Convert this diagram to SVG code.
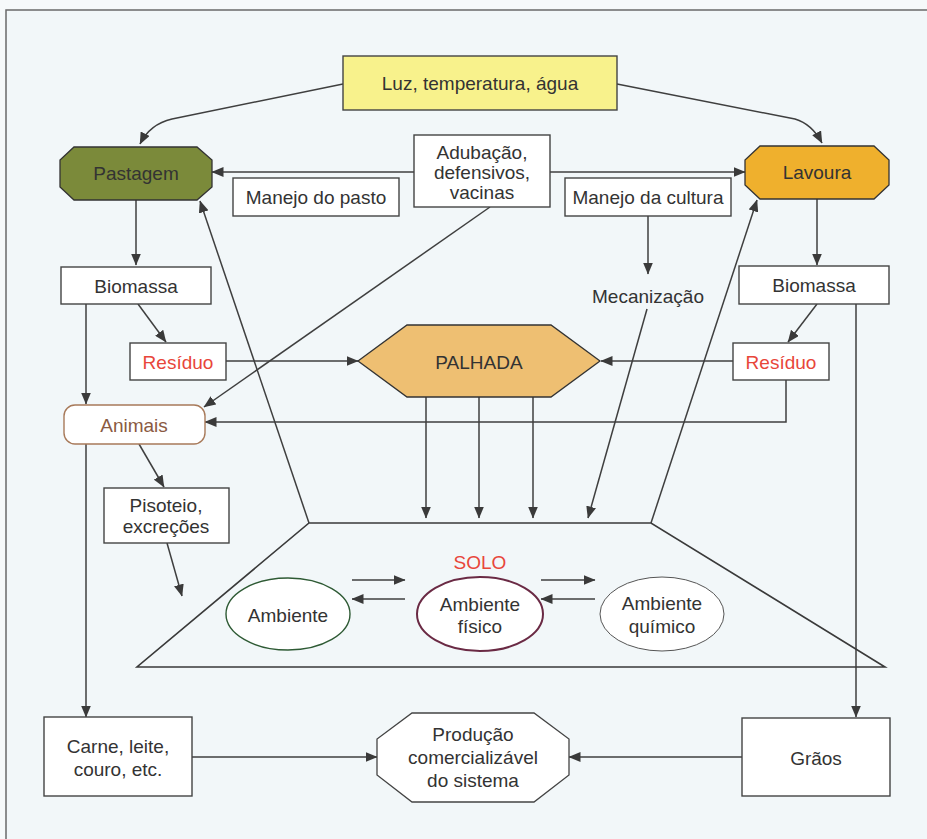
<svg xmlns="http://www.w3.org/2000/svg" width="927" height="839" viewBox="0 0 927 839">
<defs>
<marker id="ah" viewBox="0 0 12 10" refX="11.5" refY="5" markerWidth="12" markerHeight="10" markerUnits="userSpaceOnUse" orient="auto">
<path d="M0,0 L12,5 L0,10 Z" fill="#3a3a3a"/>
</marker>
<style>
text{font-family:"Liberation Sans",Arial,sans-serif;font-size:19px;fill:#333;text-anchor:middle;dominant-baseline:central}
.box{fill:#fff;stroke:#444;stroke-width:1.4}
.c{fill:none;stroke:#3f3f3f;stroke-width:1.5}
.a{marker-end:url(#ah)}
.red{fill:#e8463a}
</style>
</defs>
<rect x="0" y="0" width="927" height="839" fill="#f6f9fa"/>
<rect x="6" y="10" width="930" height="840" fill="#f2f7f9" stroke="#6a6a6a" stroke-width="1.5"/>

<g id="connectors">
<path class="c a" d="M343,84 L172,119 Q150,124 140,144"/>
<path class="c a" d="M617,84 L795,119 Q812,124 822,143"/>
<path class="c a" d="M414,172 L212,172"/>
<path class="c a" d="M550,172 L745,172"/>
<path class="c a" d="M490,207 L204,407"/>
<path class="c a" d="M136,200 L136,265"/>
<path class="c a" d="M648,216 L648,274"/>
<path class="c a" d="M817,199 L817,265"/>
<path class="c a" d="M138,304 L166,342"/>
<path class="c a" d="M86,304 L86,404"/>
<path class="c a" d="M226,361 L358,361"/>
<path class="c a" d="M817,304 L788,342"/>
<path class="c a" d="M856,304 L856,717"/>
<path class="c a" d="M733,361 L601,361"/>
<path class="c a" d="M786,380 L786,422 L205,422"/>
<path class="c a" d="M426,397 L426,518"/>
<path class="c a" d="M479,397 L479,518"/>
<path class="c a" d="M533,397 L533,518"/>
<path class="c a" d="M647,309 L588,518"/>
<path class="c a" d="M651,523 L757,200"/>
<path class="c a" d="M309,523 L200,201"/>
<path class="c a" d="M139,444 L164,487"/>
<path class="c a" d="M167,543 L182,596"/>
<path class="c a" d="M86,444 L86,717"/>
<path class="c a" d="M192,757 L377,757"/>
<path class="c a" d="M742,757 L569,757"/>
<path class="c a" d="M352,580 L405,580"/>
<path class="c a" d="M405,599 L352,599"/>
<path class="c a" d="M541,580 L595,580"/>
<path class="c a" d="M595,599 L541,599"/>
</g>

<g id="solo">
<path d="M309,523 L651,523 L885,667 L137,667 Z" fill="none" stroke="#3a3a3a" stroke-width="1.6"/>
<text x="480" y="562" class="red">SOLO</text>
</g>

<g id="luz">
<rect x="343" y="56" width="274" height="54" fill="#f8f28c" stroke="#444" stroke-width="1.4"/>
<text x="480" y="83">Luz, temperatura, água</text>
</g>

<g id="pastagem">
<path d="M74,147 L197,147 L212,160 L212,187 L197,200 L74,200 L60,187 L60,160 Z" fill="#7b8a3a" stroke="#333" stroke-width="1.3"/>
<text x="136" y="173">Pastagem</text>
</g>

<g id="lavoura">
<path d="M760,146 L874,146 L889,160 L889,185 L874,199 L760,199 L745,185 L745,160 Z" fill="#efb02d" stroke="#333" stroke-width="1.3"/>
<text x="817" y="172">Lavoura</text>
</g>

<g id="adubacao">
<rect x="414" y="135" width="136" height="72" class="box"/>
<text x="482" y="152">Adubação,</text>
<text x="482" y="172">defensivos,</text>
<text x="482" y="192">vacinas</text>
</g>

<g id="manejo-pasto">
<rect x="233" y="178" width="166" height="38" class="box"/>
<text x="316" y="197">Manejo do pasto</text>
</g>

<g id="manejo-cultura">
<rect x="565" y="178" width="166" height="38" class="box"/>
<text x="648" y="197">Manejo da cultura</text>
</g>

<g id="biomassa-l">
<rect x="61" y="267" width="150" height="37" class="box"/>
<text x="136" y="286">Biomassa</text>
</g>

<g id="biomassa-r">
<rect x="739" y="266" width="150" height="38" class="box"/>
<text x="814" y="285">Biomassa</text>
</g>

<g id="mecanizacao">
<text x="648" y="296">Mecanização</text>
</g>

<g id="residuo-l">
<rect x="130" y="343" width="96" height="37" class="box"/>
<text x="178" y="362" class="red">Resíduo</text>
</g>

<g id="residuo-r">
<rect x="733" y="343" width="96" height="37" class="box"/>
<text x="781" y="362" class="red">Resíduo</text>
</g>

<g id="palhada">
<path d="M358,361 L407,325 L551,325 L600,361 L551,397 L407,397 Z" fill="#eebf72" stroke="#333" stroke-width="1.3"/>
<text x="479" y="362">PALHADA</text>
</g>

<g id="animais">
<rect x="64" y="405" width="141" height="39" rx="11" ry="11" fill="#fff" stroke="#a87a5a" stroke-width="1.4"/>
<text x="134" y="425" style="fill:#8a5a42">Animais</text>
</g>

<g id="pisoteio">
<rect x="104" y="488" width="125" height="55" class="box"/>
<text x="166" y="505">Pisoteio,</text>
<text x="166" y="526">excreções</text>
</g>

<g id="ambiente">
<ellipse cx="288" cy="614" rx="62" ry="36" fill="#fff" stroke="#2e5a34" stroke-width="1.4"/>
<text x="288" y="615">Ambiente</text>
</g>

<g id="ambiente-fisico">
<ellipse cx="480" cy="614" rx="63" ry="37" fill="#fff" stroke="#6a2a44" stroke-width="2"/>
<text x="480" y="604">Ambiente</text>
<text x="480" y="626">físico</text>
</g>

<g id="ambiente-quimico">
<ellipse cx="662" cy="614" rx="62" ry="37" fill="#fff" stroke="#555" stroke-width="1"/>
<text x="662" y="603">Ambiente</text>
<text x="662" y="626">químico</text>
</g>

<g id="carne">
<rect x="44" y="717" width="148" height="79" class="box"/>
<text x="118" y="746">Carne, leite,</text>
<text x="118" y="769">couro, etc.</text>
</g>

<g id="producao">
<path d="M412,713 L534,713 L569,739 L569,775 L534,802 L412,802 L377,775 L377,739 Z" fill="#fff" stroke="#444" stroke-width="1.3"/>
<text x="473" y="734">Produção</text>
<text x="473" y="757">comercializável</text>
<text x="473" y="780">do sistema</text>
</g>

<g id="graos">
<rect x="742" y="718" width="148" height="78" class="box"/>
<text x="816" y="758">Grãos</text>
</g>
</svg>
